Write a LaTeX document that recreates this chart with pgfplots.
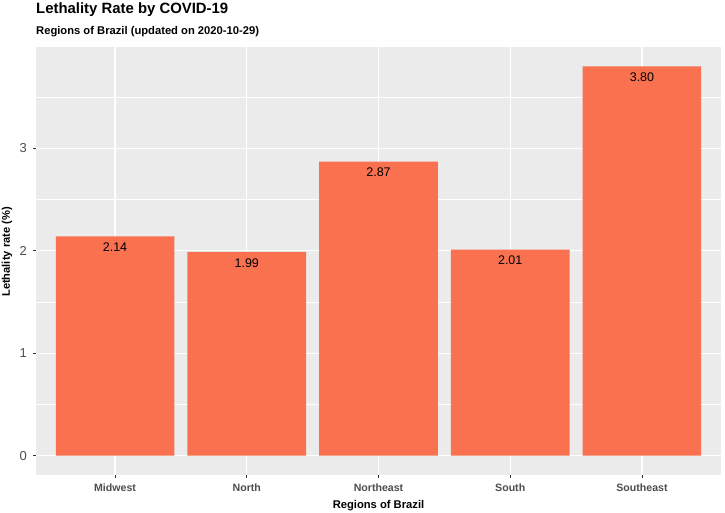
\documentclass[border=0pt]{standalone}
\usepackage{pgfplots}
\pgfplotsset{compat=1.18}
\usepackage{fontspec}
\setmainfont{Liberation Sans}
\definecolor{panelbg}{HTML}{EBEBEB}
\definecolor{barcol}{HTML}{FA7150}
\definecolor{grey30}{HTML}{4D4D4D}
\definecolor{grey20}{HTML}{333333}
\begin{document}
\begin{tikzpicture}[x=1pt,y=1pt]
\useasboundingbox (0,0) rectangle (725,513);
\begin{axis}[
  at={(36pt,38pt)}, anchor=south west,
  scale only axis, width=685pt, height=428pt,
  xmin=0.4, xmax=5.6, ymin=-0.19, ymax=3.99,
  axis line style={draw=none},
  axis background/.style={fill=panelbg},
  xtick={1,2,3,4,5},
  xticklabels={Midwest,North,Northeast,South,Southeast},
  ytick={0,1,2,3},
  minor ytick={0.5,1.5,2.5,3.5},
  xmajorgrids, ymajorgrids, yminorgrids,
  major grid style={white, line width=1.1pt},
  minor grid style={white, line width=0.55pt},
  tick align=outside,
  major tick length=3pt, minor tick length=0pt,
  tick style={grey20, line width=0.6pt},
  xtick pos=bottom, ytick pos=left,
  /pgf/number format/assume math mode=true,
  yticklabel style={font=\fontsize{13}{13}\selectfont, text=grey30, xshift=-2.5pt},
  xticklabel style={font=\fontsize{10.6}{10.6}\selectfont\bfseries, text=grey30, yshift=-2.5pt},
  ybar, bar width=0.9,
  nodes near coords,
  nodes near coords style={font=\fontsize{12.5}{12.5}\selectfont, text=black, anchor=north, inner sep=0pt, yshift=-6.3pt,
    /pgf/number format/fixed, /pgf/number format/precision=2, /pgf/number format/fixed zerofill},
]
\addplot[fill=barcol, draw=none] coordinates {(1,2.14) (2,1.99) (3,2.87) (4,2.01) (5,3.80)};
\end{axis}
\node[anchor=base west, inner sep=0pt, font=\fontsize{14.9}{14.9}\selectfont\bfseries] at (36,499.5) {Lethality Rate by COVID-19};
\node[anchor=base west, inner sep=0pt, font=\fontsize{11.2}{11.2}\selectfont\bfseries] at (36,478) {Regions of Brazil (updated on 2020-10-29)};
\node[anchor=base, inner sep=0pt, font=\fontsize{11.2}{11.2}\selectfont\bfseries] at (378.5,4) {Regions of Brazil};
\node[rotate=90, inner sep=0pt, font=\fontsize{11.1}{11.1}\selectfont\bfseries] at (7,261) {Lethality rate (\%)};
\end{tikzpicture}
\end{document}
